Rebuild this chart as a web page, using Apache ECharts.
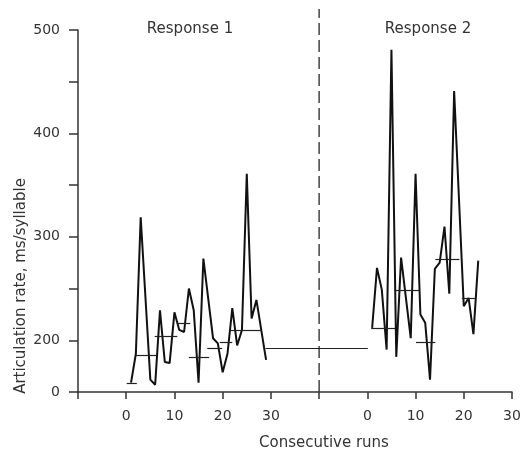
<!DOCTYPE html>
<html>
<head>
<meta charset="utf-8">
<script src="https://cdn.jsdelivr.net/npm/echarts@6/dist/echarts.min.js"></script>
<style>html,body{margin:0;padding:0;background:#fff}#c{width:524px;height:453px}</style>
</head>
<body>
<div id="c"></div>
<script>
// ---- data ----
const resp1Runs   = [1, 2, 3, 5, 6, 7, 8, 9, 10, 11, 12, 13, 14, 15, 16, 18, 19, 20, 21, 22, 23, 24, 25, 26, 27, 29];
const resp1Values = [159, 187, 319, 162, 157, 229, 179, 178, 227, 210, 208, 250, 229, 159, 279, 202, 197, 169, 187, 231, 195, 210, 361, 221, 239, 181];
const resp2Runs   = [1, 2, 3, 4, 5, 6, 7, 9, 10, 11, 12, 13, 14, 15, 16, 17, 18, 20, 21, 22, 23];
const resp2Values = [212, 270, 249, 191, 481, 184, 280, 202, 361, 225, 217, 162, 269, 275, 310, 245, 441, 233, 241, 206, 277];
// mean segments: [fromRun, toRun, value]
const resp1Means = [[0.1, 2.2, 158], [2.0, 6.2, 186], [5.9, 10.6, 204], [10.5, 13.3, 216], [13.0, 17.2, 184], [16.8, 19.9, 192], [19.4, 22.0, 198], [21.7, 28.1, 210]];
const resp2Means = [[0.8, 5.8, 212], [5.7, 10.7, 248], [10.1, 14.1, 198], [14.1, 19.1, 278], [19.6, 22.3, 241]];
// mean line bridging the two responses: from run 28.9 of response 1 to run 0.1 of response 2
const gapMean = {fromRun1: 28.9, toRun2: 0.1, value: 192};
const xTickLabels = [0, 10, 20, 30];
const yTickLabels = {150: '0', 200: '200', 300: '300', 400: '400', 500: '500'};
const panel2Offset = 50;   // response 2 run 0 sits 50 units right of response 1 run 0
const dividerPos = 40;     // dashed separator between the panels

const FONT = 'DejaVu Sans';
const TXT = '#333';

const s1 = resp1Runs.map((r, i) => [r, resp1Values[i]]);
const s2 = resp2Runs.map((r, i) => [r + panel2Offset, resp2Values[i]]);
const meanLines = []
  .concat(resp1Means.map(m => [{coord: [m[0], m[2]]}, {coord: [m[1], m[2]]}]))
  .concat(resp2Means.map(m => [{coord: [m[0] + panel2Offset, m[2]]}, {coord: [m[1] + panel2Offset, m[2]]}]))
  .concat([[{coord: [gapMean.fromRun1, gapMean.value]}, {coord: [gapMean.toRun2 + panel2Offset, gapMean.value]}]]);

const chart = echarts.init(document.getElementById('c'), null, {renderer: 'canvas'});
chart.setOption({
  animation: false,
  backgroundColor: '#fff',
  grid: [
    {left: 78, right: 12, top: 30, bottom: 61},
    {left: 78, right: 12, top: 9, bottom: 61}
  ],
  xAxis: [{
    type: 'value', gridIndex: 0, min: -10, max: 80, interval: 10,
    axisLine: {onZero: false, lineStyle: {color: '#333', width: 1.5}},
    axisTick: {length: 7, lineStyle: {color: '#333', width: 1.5}},
    splitLine: {show: false},
    axisLabel: {
      margin: 17, color: TXT, fontFamily: FONT, fontSize: 14,
      formatter: v => {
        if (xTickLabels.includes(v)) return String(v);
        if (xTickLabels.includes(v - panel2Offset)) return String(v - panel2Offset);
        return '';
      }
    }
  }, {
    type: 'value', gridIndex: 1, min: -10, max: 80, show: false
  }],
  yAxis: [{
    type: 'value', gridIndex: 0, min: 150, max: 500, interval: 50,
    axisLine: {show: true, onZero: false, lineStyle: {color: '#333', width: 1.5}},
    axisTick: {show: true, length: 9, lineStyle: {color: '#333', width: 1.5}},
    splitLine: {show: false},
    axisLabel: {
      margin: 18, color: TXT, fontFamily: FONT, fontSize: 14,
      formatter: v => yTickLabels[v] || ''
    }
  }, {
    type: 'value', gridIndex: 1, min: 0, max: 1, show: false
  }],
  series: [
    {
      type: 'line', xAxisIndex: 0, yAxisIndex: 0, data: s1, symbol: 'none', z: 3,
      lineStyle: {color: '#111', width: 2},
      markLine: {
        silent: true, symbol: ['none', 'none'], label: {show: false},
        lineStyle: {type: 'solid', color: '#222', width: 1.2},
        data: meanLines
      }
    },
    {
      type: 'line', xAxisIndex: 0, yAxisIndex: 0, data: s2, symbol: 'none', z: 3,
      lineStyle: {color: '#111', width: 2}
    },
    {
      type: 'line', xAxisIndex: 1, yAxisIndex: 1, data: [[dividerPos, 0], [dividerPos, 1]],
      symbol: 'none', silent: true,
      lineStyle: {color: '#333', width: 1.4, type: [12, 5]}
    }
  ],
  graphic: [
    {type: 'text', x: 190, y: 29, style: {text: 'Response 1', font: '15px "DejaVu Sans"', fill: TXT, textAlign: 'center', textVerticalAlign: 'middle'}},
    {type: 'text', x: 428, y: 29, style: {text: 'Response 2', font: '15px "DejaVu Sans"', fill: TXT, textAlign: 'center', textVerticalAlign: 'middle'}},
    {type: 'text', x: 324, y: 443, style: {text: 'Consecutive runs', font: '15px "DejaVu Sans"', fill: TXT, textAlign: 'center', textVerticalAlign: 'middle'}},
    {type: 'text', x: 21, y: 286, rotation: Math.PI / 2, style: {text: 'Articulation rate, ms/syllable', font: '15px "DejaVu Sans"', fill: TXT, textAlign: 'center', textVerticalAlign: 'middle'}}
  ]
});
</script>
</body>
</html>
